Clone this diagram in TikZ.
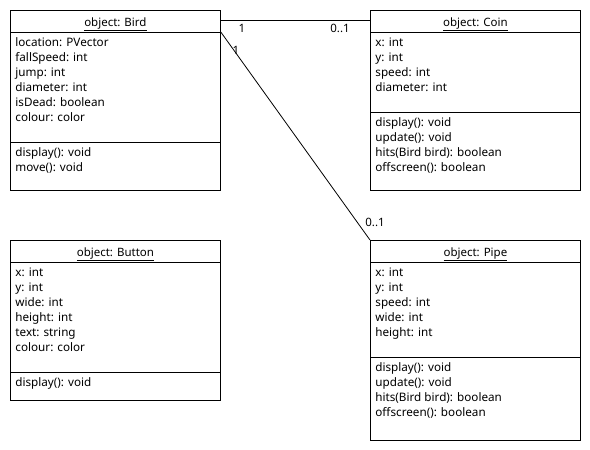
\documentclass[tikz,border=0pt]{standalone}
\usepackage{fontspec}
\setmainfont{Noto Sans}
\usetikzlibrary{positioning}

\begin{document}
\begin{tikzpicture}[x=1pt,y=-1pt,line width=.8pt,
  umlbox/.style={draw,rectangle,anchor=north west,inner sep=0pt,minimum width=210pt},
  umltitle/.style={anchor=base,inner sep=0pt,font=\fontsize{11.5}{15}\selectfont},
  umltext/.style={anchor=north west,align=left,inner sep=0pt,font=\fontsize{11.7}{15}\selectfont},
  mult/.style={inner sep=0pt,font=\fontsize{11.5}{15}\selectfont}]
\useasboundingbox (0,0) rectangle (590,450);

% Bird
\node[umlbox,minimum height=180pt] (bird) at (10,10) {};
\node[umltitle] (birdtitle) at ([yshift=-16pt]bird.north) {\underline{object: Bird}};
\draw ([yshift=-22pt]bird.north west) -- ([yshift=-22pt]bird.north east);
\node[umltext] (birdattr) at ([xshift=5pt,yshift=-27.5pt]bird.north west)
  {location: PVector\\fallSpeed: int\\jump: int\\diameter: int\\isDead: boolean\\colour: color};
\draw ([yshift=-132pt]bird.north west) -- ([yshift=-132pt]bird.north east);
\node[umltext] (birdops) at ([xshift=5pt,yshift=-137.5pt]bird.north west)
  {display(): void\\move(): void};

% Coin
\node[umlbox,minimum height=180pt] (coin) at (370,10) {};
\node[umltitle] (cointitle) at ([yshift=-16pt]coin.north) {\underline{object: Coin}};
\draw ([yshift=-22pt]coin.north west) -- ([yshift=-22pt]coin.north east);
\node[umltext] (coinattr) at ([xshift=5pt,yshift=-27.5pt]coin.north west)
  {x: int\\y: int\\speed: int\\diameter: int};
\draw ([yshift=-102pt]coin.north west) -- ([yshift=-102pt]coin.north east);
\node[umltext] (coinops) at ([xshift=5pt,yshift=-107.5pt]coin.north west)
  {display(): void\\update(): void\\hits(Bird bird): boolean\\offscreen(): boolean};

% Button
\node[umlbox,minimum height=160pt] (button) at (10,240) {};
\node[umltitle] (buttontitle) at ([yshift=-16pt]button.north) {\underline{object: Button}};
\draw ([yshift=-22pt]button.north west) -- ([yshift=-22pt]button.north east);
\node[umltext] (buttonattr) at ([xshift=5pt,yshift=-27.5pt]button.north west)
  {x: int\\y: int\\wide: int\\height: int\\text: string\\colour: color};
\draw ([yshift=-132pt]button.north west) -- ([yshift=-132pt]button.north east);
\node[umltext] (buttonops) at ([xshift=5pt,yshift=-137.5pt]button.north west)
  {display(): void};

% Pipe
\node[umlbox,minimum height=200pt] (pipe) at (370,240) {};
\node[umltitle] (pipetitle) at ([yshift=-16pt]pipe.north) {\underline{object: Pipe}};
\draw ([yshift=-22pt]pipe.north west) -- ([yshift=-22pt]pipe.north east);
\node[umltext] (pipeattr) at ([xshift=5pt,yshift=-27.5pt]pipe.north west)
  {x: int\\y: int\\speed: int\\wide: int\\height: int};
\draw ([yshift=-117pt]pipe.north west) -- ([yshift=-117pt]pipe.north east);
\node[umltext] (pipeops) at ([xshift=5pt,yshift=-122.5pt]pipe.north west)
  {display(): void\\update(): void\\hits(Bird bird): boolean\\offscreen(): boolean};

% associations
\draw ([yshift=-10pt]bird.north east) -- ([yshift=-10pt]coin.north west);
\node[mult] (birdcoin1) at (242,28) {1};
\node[mult] (birdcoin2) at (340,28) {0..1};
\draw ([yshift=-22pt]bird.north east) -- (pipe.north west);
\node[mult] (birdpipe1) at (236,50) {1};
\node[mult] (birdpipe2) at (375,222) {0..1};
\end{tikzpicture}
\end{document}
